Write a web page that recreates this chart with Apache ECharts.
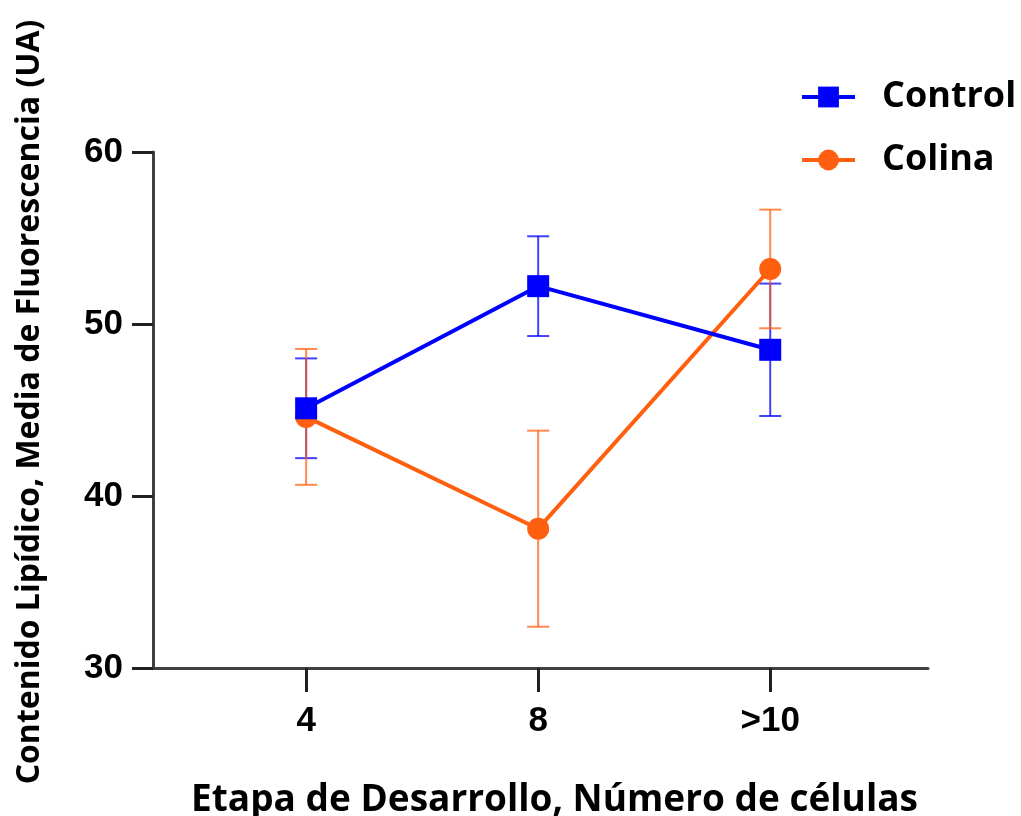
<!DOCTYPE html>
<html>
<head>
<meta charset="utf-8">
<title>Contenido lipídico</title>
<script src="https://cdn.jsdelivr.net/npm/echarts@6/dist/echarts.min.js"></script>
<style>
  html, body { margin: 0; padding: 0; background: #fff; }
  #chart { width: 1021px; height: 816px; }
</style>
</head>
<body>
<div id="chart"></div>
<script>
// categories sit at x = 1, 2, 3 on a value axis so the axis can overhang unevenly
var categories = ['4', '8', '>10']
var yTicks = [30, 40, 50, 60]

var controlMean = [45.1, 52.2, 48.5]
var controlErr = [2.9, 2.9, 3.85]
var colinaMean = [44.6, 38.1, 53.2]
var colinaErr = [3.95, 5.7, 3.45]

var blue = '#0000ff'
var orange = '#ff6010'

function points(means) {
    return means.map(function (v, i) { return [i + 1, v] })
}

function bars(means, errs) {
    return means.map(function (v, i) { return [i + 1, v - errs[i], v + errs[i]] })
}

function errorSeries(name, data, color, z) {
    return {
        name: name,
        type: 'custom',
        z: z,
        silent: true,
        data: data,
        renderItem: function (params, api) {
            var x = api.value(0)
            var lo = api.coord([x, api.value(1)])
            var hi = api.coord([x, api.value(2)])
            var half = 11
            var style = {stroke: color, lineWidth: 2, opacity: 0.75}
            return {
                type: 'group',
                children: [
                    {type: 'line', shape: {x1: lo[0], y1: lo[1], x2: hi[0], y2: hi[1]}, style: style},
                    {type: 'line', shape: {x1: lo[0] - half, y1: lo[1], x2: lo[0] + half, y2: lo[1]}, style: style},
                    {type: 'line', shape: {x1: hi[0] - half, y1: hi[1], x2: hi[0] + half, y2: hi[1]}, style: style}
                ]
            }
        }
    }
}

var chart = echarts.init(document.getElementById('chart'))

var option = {
    animation: false,
    grid: {left: 153, right: 93, top: 152, bottom: 148, outerBoundsMode: 'none', containLabel: false},
    legend: {
        orient: 'vertical',
        left: 795,
        top: 74,
        itemWidth: 53,
        itemHeight: 26,
        itemGap: 27,
        data: ['Control', 'Colina'],
        lineStyle: {width: 4},
        textStyle: {
            fontFamily: 'Open Sans',
            fontWeight: 'bold',
            fontSize: 36,
            color: '#000',
            padding: [0, 0, 0, 22]
        }
    },
    xAxis: {
        type: 'value',
        min: 0.34,
        max: 3.68,
        name: 'Etapa de Desarrollo, Número de células',
        nameLocation: 'middle',
        nameGap: 114,
        nameTextStyle: {fontFamily: 'Open Sans', fontWeight: 'bold', fontSize: 37, color: '#000', padding: [0, 0, 0, 28]},
        splitLine: {show: false},
        axisLine: {lineStyle: {color: '#404040', width: 3}},
        axisTick: {show: true, customValues: [1, 2, 3], length: 24, lineStyle: {color: '#202020', width: 3}},
        axisLabel: {
            customValues: [1, 2, 3],
            margin: 36,
            fontFamily: 'Liberation Sans',
            fontWeight: 'bold',
            fontSize: 35,
            color: '#000',
            formatter: function (v) { return categories[Math.round(v) - 1] }
        }
    },
    yAxis: {
        type: 'value',
        min: 30,
        max: 60,
        interval: 10,
        name: 'Contenido Lipídico, Media de Fluorescencia (UA)',
        nameLocation: 'middle',
        nameRotate: 90,
        nameGap: 107,
        nameTextStyle: {fontFamily: 'Open Sans', fontWeight: 'bold', fontSize: 32, color: '#000', padding: [0, 0, 0, 16]},
        splitLine: {show: false},
        axisLine: {show: true, lineStyle: {color: '#404040', width: 3}},
        axisTick: {show: true, length: 21, lineStyle: {color: '#202020', width: 3}},
        axisLabel: {
            margin: 30,
            fontFamily: 'Liberation Sans',
            fontWeight: 'bold',
            fontSize: 35,
            color: '#000',
            formatter: function (v) { return yTicks.indexOf(v) >= 0 ? String(v) : '' }
        }
    },
    series: [
        errorSeries('Control SD', bars(controlMean, controlErr), blue, 2),
        errorSeries('Colina SD', bars(colinaMean, colinaErr), orange, 3),
        {
            name: 'Colina',
            type: 'line',
            z: 4,
            data: points(colinaMean),
            symbol: 'circle',
            symbolSize: 22,
            lineStyle: {color: orange, width: 4},
            itemStyle: {color: orange}
        },
        {
            name: 'Control',
            type: 'line',
            z: 5,
            data: points(controlMean),
            symbol: 'rect',
            symbolSize: 22,
            lineStyle: {color: blue, width: 4},
            itemStyle: {color: blue}
        }
    ]
}

chart.setOption(option)
</script>
</body>
</html>
